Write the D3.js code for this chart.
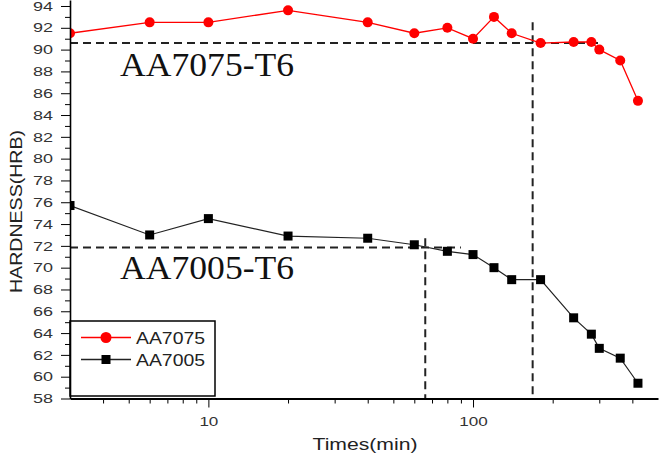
<!DOCTYPE html>
<html>
<head>
<meta charset="utf-8">
<script src="https://cdn.jsdelivr.net/npm/d3@7"></script>
<style>
  body { margin: 0; background: #fff; }
  text { font-family: "Liberation Sans", Arial, sans-serif; }
</style>
</head>
<body>
<div id="chart"></div>
<script>
// values
const times = [3, 6, 10, 20, 40, 60, 80, 100, 120, 140, 180, 240, 280, 300, 360, 420];
const aa7075 = [91.5, 92.5, 92.5, 93.6, 92.5, 91.5, 92.0, 91.0, 93.0, 91.5, 90.6, 90.7, 90.7, 90.0, 89.0, 85.3];
const aa7005 = [75.7, 73.0, 74.5, 72.9, 72.7, 72.1, 71.5, 71.2, 70.0, 68.9, 68.9, 65.4, 63.9, 62.6, 61.7, 59.4];
const seriesNames = ["AA7075", "AA7005"];
const yMajorTicks = d3.range(58, 95, 2);
const yMinorTicks = d3.range(59, 95, 2);
const xMajorTicks = [10, 100];
const xMinorTicks = [4, 5, 6, 7, 8, 9, 20, 30, 40, 50, 60, 70, 80, 90, 200, 300, 400];
// dashed guide lines [t1, h1, t2, h2]
const guides = [
  [3, 90.6, 300, 90.6],
  [168, 92.5, 168, 58],
  [3, 71.85, 90, 71.85],
  [66, 72.7, 66, 58]
];
const bigLabels = [
  { text: "AA7075-T6", t: 4.64, h: 87.6 },
  { text: "AA7005-T6", t: 4.64, h: 69.0 }
];

const W = 662, H = 454;
const mLeft = 70, mRight = 658, mTop = 0, mBottom = 398.5;

const svg = d3.select("#chart").append("svg")
  .attr("width", W).attr("height", H);

const x = d3.scaleLog().domain([3, 500]).range([mLeft, mRight]);
const y = d3.scaleLinear().domain([58, 94.55]).range([mBottom, mTop]);

svg.append("defs").append("clipPath").attr("id", "plot")
  .append("rect").attr("x", mLeft).attr("y", mTop)
  .attr("width", mRight - mLeft).attr("height", mBottom - mTop);

function stretch(sel, perChar) {
  sel.attr("textLength", function () { return this.textContent.length * perChar; })
    .attr("lengthAdjust", "spacingAndGlyphs");
}

// dashed guides
svg.append("g").selectAll("line")
  .data(guides)
  .enter().append("line")
  .attr("x1", d => x(d[0])).attr("y1", d => y(d[1]))
  .attr("x2", d => x(d[2])).attr("y2", d => y(d[3]))
  .attr("stroke", "#222").attr("stroke-width", 2)
  .attr("stroke-dasharray", "8,5");

// series
const data7075 = times.map((t, i) => ({ t: t, h: aa7075[i] }));
const data7005 = times.map((t, i) => ({ t: t, h: aa7005[i] }));
const line = d3.line().x(d => x(d.t)).y(d => y(d.h));

const plot = svg.append("g").attr("clip-path", "url(#plot)");

plot.append("path").datum(data7005)
  .attr("d", line).attr("fill", "none")
  .attr("stroke", "#222").attr("stroke-width", 1.2);
plot.selectAll(".sq").data(data7005)
  .enter().append("rect").attr("class", "sq")
  .attr("x", d => x(d.t) - 4.5).attr("y", d => y(d.h) - 4.5)
  .attr("width", 9).attr("height", 9).attr("fill", "#000");

plot.append("path").datum(data7075)
  .attr("d", line).attr("fill", "none")
  .attr("stroke", "#ff0000").attr("stroke-width", 1.3);
plot.selectAll(".dot").data(data7075)
  .enter().append("circle").attr("class", "dot")
  .attr("cx", d => x(d.t)).attr("cy", d => y(d.h))
  .attr("r", 5).attr("fill", "#ff0000");

// big annotations
svg.selectAll(".big").data(bigLabels)
  .enter().append("text").attr("class", "big")
  .attr("x", d => x(d.t)).attr("y", d => y(d.h))
  .style("font-family", "'Liberation Serif', 'Times New Roman', serif")
  .style("font-size", "34px").attr("fill", "#111")
  .attr("textLength", 174).attr("lengthAdjust", "spacingAndGlyphs")
  .text(d => d.text);

// legend
const legend = svg.append("g");
legend.append("rect")
  .attr("x", 70).attr("y", 321).attr("width", 145).attr("height", 75)
  .attr("fill", "#fff").attr("stroke", "#000").attr("stroke-width", 1.5);
const entries = legend.selectAll(".entry").data(seriesNames)
  .enter().append("g").attr("class", "entry")
  .attr("transform", (_, i) => `translate(0, ${337.5 + i * 22})`);
entries.append("line")
  .attr("x1", 81).attr("x2", 131).attr("y1", 0).attr("y2", 0)
  .attr("stroke", (d, i) => i === 0 ? "#ff0000" : "#222").attr("stroke-width", 1.3);
entries.filter((d, i) => i === 0).append("circle")
  .attr("cx", 106).attr("cy", 0).attr("r", 5.5).attr("fill", "#ff0000");
entries.filter((d, i) => i === 1).append("rect")
  .attr("x", 101.5).attr("y", -4.5).attr("width", 9).attr("height", 9).attr("fill", "#000");
entries.append("text")
  .attr("x", 136).attr("y", 6)
  .style("font-size", "16px").attr("fill", "#222")
  .attr("textLength", 69).attr("lengthAdjust", "spacingAndGlyphs")
  .text(d => d);

// y axis
const yAxis = svg.append("g").attr("transform", `translate(${mLeft},0)`)
  .call(d3.axisLeft(y).tickValues(yMajorTicks).tickSize(9).tickSizeOuter(0).tickPadding(8));
yAxis.select(".domain").attr("stroke-width", 1.6);
yAxis.selectAll("text").style("font-size", "13px").attr("fill", "#333").call(stretch, 10);
svg.append("g").attr("transform", `translate(${mLeft},0)`)
  .call(d3.axisLeft(y).tickValues(yMinorTicks).tickSize(5).tickFormat(""))
  .select(".domain").remove();

// x axis
const xAxis = svg.append("g").attr("transform", `translate(0,${mBottom})`)
  .call(d3.axisBottom(x).tickValues(xMajorTicks).tickSize(9).tickSizeOuter(0)
    .tickPadding(9).tickFormat(d3.format("d")));
xAxis.select(".domain").attr("stroke-width", 2);
xAxis.selectAll("text").style("font-size", "13.5px").attr("fill", "#333").call(stretch, 9.5);
svg.append("g").attr("transform", `translate(0,${mBottom})`)
  .call(d3.axisBottom(x).tickValues(xMinorTicks).tickSize(5).tickFormat(""))
  .select(".domain").remove();

// axis titles
svg.append("text")
  .attr("x", 365).attr("y", 450)
  .attr("text-anchor", "middle")
  .style("font-size", "16px").attr("fill", "#222")
  .attr("textLength", 105).attr("lengthAdjust", "spacingAndGlyphs")
  .text("Times(min)");

svg.append("text")
  .attr("transform", "translate(21.5,211.5) rotate(-90)")
  .attr("text-anchor", "middle")
  .style("font-size", "16px").attr("fill", "#222")
  .attr("textLength", 163).attr("lengthAdjust", "spacingAndGlyphs")
  .text("HARDNESS(HRB)");
</script>
</body>
</html>
